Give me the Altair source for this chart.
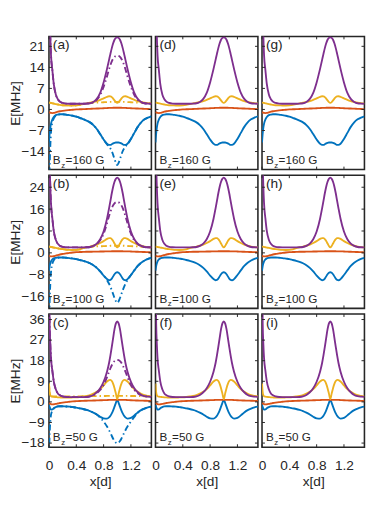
import altair as alt
import pandas as pd

FONT = "Liberation Sans"
INK = "#262626"

# sample positions along x (in units of d)
X = [0, 0.01, 0.02, 0.03, 0.05, 0.07, 0.1, 0.13, 0.16, 0.2,
     0.25, 0.3, 0.35, 0.4, 0.45, 0.5, 0.55, 0.6, 0.65, 0.7, 0.75, 0.8, 0.85,
     0.88, 0.9, 0.92, 0.94, 0.96, 0.98, 1.0,
     1.02, 1.04, 1.06, 1.08, 1.1, 1.12,
     1.15, 1.2, 1.25, 1.3, 1.35, 1.4, 1.45, 1.5]

# ---- Bz = 160 G ----
PS1 = [60, 34, 24, 18, 13, 8.5, 5.0, 3.4, 2.6, 2.15,
       1.95, 1.9, 1.9, 1.9, 1.9, 1.9, 1.95, 2.05, 2.5, 3.5, 5.5, 9.0, 13.5,
       16.5, 18.5, 20.4, 22.0, 23.2, 23.8, 24.0,
       23.8, 23.2, 22.0, 20.4, 18.5, 16.5,
       13.5, 9.0, 5.5, 3.5, 2.5, 2.05, 1.95, 1.9]
PD1 = [60, 34, 24, 18, 13, 8.5, 5.0, 3.4, 2.6, 2.15,
       1.95, 1.9, 1.9, 1.9, 1.9, 1.9, 1.95, 2.05, 2.4, 3.2, 4.8, 7.5, 11.0,
       13.4, 14.8, 16.0, 16.9, 17.5, 17.8, 17.9,
       17.8, 17.5, 16.9, 16.0, 14.8, 13.4,
       11.0, 7.5, 4.8, 3.2, 2.4, 2.05, 1.95, 1.9]
YS1 = [2.3, 2.25, 2.2, 2.15, 2.05, 1.95, 1.8, 1.65, 1.5, 1.4,
       1.35, 1.3, 1.3, 1.35, 1.5, 1.75, 2.0, 2.25, 2.5, 2.8, 3.2, 3.7, 4.2,
       4.4, 4.35, 4.1, 3.6, 3.0, 2.45, 2.2,
       2.45, 3.0, 3.6, 4.1, 4.35, 4.4,
       4.2, 3.7, 3.2, 2.8, 2.5, 2.25, 2.1, 2.0]
YD1 = [2.3, 2.25, 2.2, 2.15, 2.05, 1.95, 1.8, 1.65, 1.5, 1.4,
       1.35, 1.3, 1.3, 1.35, 1.5, 1.75, 2.0, 2.15, 2.25, 2.3, 2.35, 2.4, 2.45,
       2.5, 2.5, 2.5, 2.5, 2.5, 2.5, 2.5,
       2.5, 2.5, 2.5, 2.5, 2.5, 2.5,
       2.45, 2.4, 2.35, 2.3, 2.25, 2.15, 2.1, 2.0]
R1 = [-0.8, -1.0, -1.1, -1.15, -1.2, -1.15, -0.95, -0.75, -0.6, -0.45,
      -0.3, -0.2, -0.1, 0.0, 0.05, 0.1, 0.15, 0.2, 0.25, 0.3, 0.35, 0.4, 0.45,
      0.5, 0.5, 0.52, 0.55, 0.55, 0.55, 0.55,
      0.55, 0.55, 0.55, 0.52, 0.5, 0.5,
      0.45, 0.4, 0.35, 0.3, 0.25, 0.2, 0.15, 0.1]
BS1 = [-11.0, -8.0, -6.0, -4.7, -3.3, -2.5, -1.9, -1.7, -1.6, -1.6,
       -1.7, -1.9, -2.1, -2.4, -2.8, -3.2, -3.7, -4.3, -5.2, -6.5, -8.2, -10.0, -11.4,
       -11.8, -11.8, -11.6, -11.3, -11.1, -11.0, -11.0,
       -11.0, -11.1, -11.3, -11.6, -11.8, -11.8,
       -11.4, -9.8, -7.8, -5.8, -4.3, -3.3, -2.7, -2.3]
BD1 = [-30, -19, -12, -7.5, -4.3, -3.0, -2.1, -1.8, -1.6, -1.6,
       -1.7, -1.9, -2.1, -2.4, -2.8, -3.2, -3.7, -4.3, -5.2, -6.5, -8.2, -10.0, -11.6,
       -12.3, -13.0, -13.9, -15.1, -16.5, -17.8, -18.5,
       -17.8, -16.5, -15.1, -13.9, -13.0, -12.3,
       -11.6, -9.8, -7.8, -5.8, -4.3, -3.3, -2.7, -2.3]

# ---- Bz = 100 G ----
PS2 = [60, 34, 24, 18, 12.5, 8.0, 4.8, 3.3, 2.6, 2.2,
       2.05, 2.0, 2.0, 2.0, 2.0, 2.0, 2.05, 2.15, 2.55, 3.4, 5.0, 7.8, 12.5,
       16.3, 19.0, 21.8, 24.2, 26.0, 27.1, 27.5,
       27.1, 26.0, 24.2, 21.8, 19.0, 16.3,
       12.5, 7.8, 5.0, 3.4, 2.55, 2.15, 2.05, 2.0]
PD2 = [60, 34, 24, 18, 12.5, 8.0, 4.8, 3.3, 2.6, 2.2,
       2.05, 2.0, 2.0, 2.0, 2.0, 2.0, 2.05, 2.15, 2.45, 3.2, 4.6, 7.0, 10.8,
       13.5, 15.0, 16.4, 17.4, 18.1, 18.5, 18.6,
       18.5, 18.1, 17.4, 16.4, 15.0, 13.5,
       10.8, 7.0, 4.6, 3.2, 2.45, 2.15, 2.05, 2.0]
YS2 = [2.3, 2.25, 2.2, 2.15, 2.05, 1.95, 1.8, 1.65, 1.5, 1.35,
       1.2, 1.1, 1.05, 1.1, 1.3, 1.7, 2.05, 2.3, 2.6, 3.0, 3.6, 4.3, 5.1,
       5.4, 5.4, 5.0, 4.3, 3.4, 2.5, 2.0,
       2.5, 3.4, 4.3, 5.0, 5.4, 5.4,
       5.1, 4.3, 3.6, 3.0, 2.6, 2.3, 2.1, 2.0]
YD2 = [2.3, 2.25, 2.2, 2.15, 2.05, 1.95, 1.8, 1.65, 1.5, 1.35,
       1.2, 1.1, 1.05, 1.1, 1.3, 1.7, 2.05, 2.15, 2.25, 2.35, 2.4, 2.45, 2.5,
       2.55, 2.6, 2.6, 2.6, 2.6, 2.6, 2.6,
       2.6, 2.6, 2.6, 2.6, 2.6, 2.55,
       2.5, 2.45, 2.4, 2.35, 2.25, 2.15, 2.1, 2.0]
R2 = [-1.0, -1.15, -1.25, -1.3, -1.3, -1.2, -1.0, -0.8, -0.6, -0.4,
      -0.2, 0.0, 0.15, 0.25, 0.3, 0.35, 0.4, 0.4, 0.45, 0.45, 0.5, 0.5, 0.55,
      0.55, 0.55, 0.6, 0.6, 0.6, 0.6, 0.6,
      0.6, 0.6, 0.6, 0.6, 0.55, 0.55,
      0.55, 0.5, 0.45, 0.4, 0.35, 0.3, 0.25, 0.2]
BS2 = [-6.5, -4.8, -3.8, -3.1, -2.4, -2.0, -1.8, -1.7, -1.7, -1.7,
       -1.8, -1.9, -2.1, -2.3, -2.6, -2.9, -3.3, -3.8, -4.5, -5.5, -6.8, -8.3, -9.6,
       -10.0, -9.9, -9.4, -8.6, -7.8, -7.3, -7.1,
       -7.3, -7.8, -8.6, -9.4, -9.9, -10.0,
       -9.6, -8.1, -6.4, -4.8, -3.6, -2.8, -2.2, -1.8]
BD2 = [-28, -18, -11, -7.0, -3.9, -2.7, -2.0, -1.8, -1.7, -1.7,
       -1.8, -1.9, -2.1, -2.3, -2.6, -2.9, -3.3, -3.8, -4.5, -5.5, -6.8, -8.3, -10.0,
       -11.3, -12.4, -13.7, -15.1, -16.5, -17.7, -18.3,
       -17.7, -16.5, -15.1, -13.7, -12.4, -11.3,
       -10.0, -8.1, -6.4, -4.8, -3.6, -2.8, -2.2, -1.8]

# ---- Bz = 50 G ----
PS3 = [60, 34, 25, 19, 13.5, 9.0, 5.5, 3.7, 2.9, 2.4,
       2.15, 2.1, 2.1, 2.1, 2.1, 2.1, 2.15, 2.4, 3.0, 4.2, 6.0, 8.8, 13.2,
       17.0, 20.3, 24.0, 28.0, 31.8, 34.3, 35.2,
       34.3, 31.8, 28.0, 24.0, 20.3, 17.0,
       13.2, 8.8, 6.0, 4.2, 3.0, 2.5, 2.3, 2.2]
PD3 = [60, 34, 25, 19, 13.5, 9.0, 5.5, 3.7, 2.9, 2.4,
       2.15, 2.1, 2.1, 2.1, 2.1, 2.1, 2.15, 2.4, 2.9, 3.8, 5.2, 7.4, 10.8,
       13.2, 14.7, 16.0, 17.1, 17.8, 18.2, 18.3,
       18.2, 17.8, 17.1, 16.0, 14.7, 13.2,
       10.8, 7.4, 5.2, 3.8, 2.9, 2.5, 2.3, 2.2]
YS3 = [8.0, 4.2, 2.9, 2.5, 2.3, 2.2, 2.1, 2.0, 1.95, 1.9,
       1.9, 1.9, 1.95, 2.0, 2.15, 2.35, 2.6, 3.0, 3.6, 4.4, 5.6, 7.2, 8.9,
       9.5, 9.6, 9.1, 7.9, 6.0, 3.6, 1.2,
       3.6, 6.0, 7.9, 9.1, 9.6, 9.5,
       8.9, 7.2, 5.6, 4.4, 3.5, 2.9, 2.6, 2.4]
YD3 = [8.0, 4.2, 2.9, 2.5, 2.4, 2.4, 2.4, 2.4, 2.4, 2.4,
       2.4, 2.4, 2.4, 2.4, 2.4, 2.45, 2.45, 2.5, 2.5, 2.5, 2.55, 2.55, 2.6,
       2.6, 2.6, 2.6, 2.6, 2.6, 2.6, 2.6,
       2.6, 2.6, 2.6, 2.6, 2.6, 2.6,
       2.6, 2.55, 2.55, 2.5, 2.5, 2.45, 2.45, 2.4]
R3 = [-0.3, -0.6, -0.85, -1.0, -1.1, -1.05, -0.9, -0.7, -0.5, -0.3,
      -0.1, 0.05, 0.2, 0.3, 0.4, 0.45, 0.5, 0.55, 0.6, 0.65, 0.7, 0.75, 0.8,
      0.85, 0.85, 0.9, 0.9, 0.9, 0.9, 0.9,
      0.9, 0.9, 0.9, 0.9, 0.85, 0.85,
      0.8, 0.7, 0.65, 0.6, 0.55, 0.5, 0.45, 0.4]
BS3 = [-1.3, -2.3, -3.0, -3.4, -3.3, -2.8, -2.3, -2.0, -1.9, -1.9,
       -2.0, -2.1, -2.3, -2.5, -2.8, -3.1, -3.5, -4.0, -4.7, -5.5, -6.5, -7.2, -7.3,
       -6.8, -6.1, -5.0, -3.7, -2.1, -0.4, 0.8,
       -0.4, -2.1, -3.7, -5.0, -6.1, -6.8,
       -7.3, -7.0, -5.9, -4.6, -3.6, -2.9, -2.4, -2.1]
BD3 = [-24, -14, -8.5, -5.6, -3.8, -2.9, -2.3, -2.0, -1.9, -1.9,
       -2.0, -2.1, -2.3, -2.5, -2.8, -3.1, -3.5, -4.0, -4.7, -5.5, -6.9, -8.6, -10.8,
       -12.4, -13.6, -14.9, -16.1, -17.1, -17.8, -18.1,
       -17.8, -17.1, -16.1, -14.9, -13.6, -12.4,
       -10.8, -8.6, -6.6, -4.8, -3.6, -2.9, -2.4, -2.1]

ROWS = [
    {"blue": (BS1, BD1), "red": (R1, None), "yellow": (YS1, YD1), "purple": (PS1, PD1)},
    {"blue": (BS2, BD2), "red": (R2, None), "yellow": (YS2, YD2), "purple": (PS2, PD2)},
    {"blue": (BS3, BD3), "red": (R3, None), "yellow": (YS3, YD3), "purple": (PS3, PD3)},
]
CURVES = ["blue", "red", "yellow", "purple"]
COLORS = {"blue": "#0072BD", "red": "#D95319", "yellow": "#EDB120", "purple": "#7E2F8E"}

YDOM = [[-20.0, 24.3], [-20.3, 28.4], [-19.8, 38.4]]
YTICKS = [[-14, -7, 0, 7, 14, 21], [-16, -8, 0, 8, 16, 24], [-18, -9, 0, 9, 18, 27, 36]]
XTICKS = [0, 0.4, 0.8, 1.2]
LETTERS = [["(a)", "(d)", "(g)"], ["(b)", "(e)", "(h)"], ["(c)", "(f)", "(i)"]]
BZ = ["=160 G", "=100 G", "=50 G"]

W, H = 105, 136.5
TL = 3  # tick length (px)


def xenc(r):
    axis = None
    if r == 2:
        axis = alt.Axis(values=XTICKS, format=".1~f", title="x[d]", ticks=False,
                        domain=False, grid=False, labelFlush=False,
                        labelPadding=12, titlePadding=2)
    return alt.X("x:Q", scale=alt.Scale(domain=[0, 1.5], nice=False, zero=False), axis=axis)


def yenc(r, c):
    axis = None
    if c == 0:
        axis = alt.Axis(values=YTICKS[r], title="E[MHz]", ticks=False, domain=False,
                        grid=False, labelPadding=5, titlePadding=-2)
    return alt.Y("y:Q", scale=alt.Scale(domain=YDOM[r], nice=False, zero=False), axis=axis)


def panel(r, c):
    layers = []
    data = ROWS[r]
    for name in CURVES:
        solid, dash = data[name]
        if c == 0 and dash is not None:
            df = pd.DataFrame({"x": X, "y": dash})
            layers.append(alt.Chart(df).mark_line(
                color=COLORS[name], strokeWidth=1.9, strokeDash=[6, 3, 1.5, 3],
                clip=True, interpolate="monotone").encode(x=xenc(r), y=yenc(r, c)))
        df = pd.DataFrame({"x": X, "y": solid})
        layers.append(alt.Chart(df).mark_line(
            color=COLORS[name], strokeWidth=1.9, clip=True,
            interpolate="monotone").encode(x=xenc(r), y=yenc(r, c)))

    yt = pd.DataFrame({"y": YTICKS[r]})
    xt = pd.DataFrame({"x": XTICKS})
    layers.append(alt.Chart(yt).mark_rule(color=INK, strokeWidth=1).encode(
        y=yenc(r, c), x=alt.value(0), x2=alt.value(TL)))
    layers.append(alt.Chart(yt).mark_rule(color=INK, strokeWidth=1).encode(
        y=yenc(r, c), x=alt.value(W - TL), x2=alt.value(W)))
    layers.append(alt.Chart(xt).mark_rule(color=INK, strokeWidth=1).encode(
        x=xenc(r), y=alt.value(0), y2=alt.value(TL)))
    layers.append(alt.Chart(xt).mark_rule(color=INK, strokeWidth=1).encode(
        x=xenc(r), y=alt.value(H - TL), y2=alt.value(H)))

    lab = pd.DataFrame({"t": [LETTERS[r][c]]})
    layers.append(alt.Chart(lab).mark_text(
        align="left", baseline="top", font=FONT, fontSize=14, color=INK).encode(
        text="t:N", x=alt.value(4), y=alt.value(2)))
    b = pd.DataFrame({"t": ["B"]})
    z = pd.DataFrame({"t": ["z"]})
    v = pd.DataFrame({"t": [BZ[r]]})
    layers.append(alt.Chart(b).mark_text(
        align="left", baseline="alphabetic", font=FONT, fontSize=12, color=INK).encode(
        text="t:N", x=alt.value(4), y=alt.value(H - 6)))
    layers.append(alt.Chart(z).mark_text(
        align="left", baseline="alphabetic", font=FONT, fontSize=8, color=INK).encode(
        text="t:N", x=alt.value(12.5), y=alt.value(H - 2)))
    layers.append(alt.Chart(v).mark_text(
        align="left", baseline="alphabetic", font=FONT, fontSize=12, color=INK).encode(
        text="t:N", x=alt.value(17), y=alt.value(H - 6)))

    return alt.layer(*layers).properties(width=W, height=H)


panels = [panel(r, c) for r in range(3) for c in range(3)]
chart = alt.concat(
    *panels, columns=3, spacing={"row": 5.3, "column": 4.2}, bounds="flush"
).properties(
    padding={"left": 0, "top": 21, "right": 0, "bottom": 0}
).configure_view(
    stroke=INK, strokeWidth=1.6
).configure_axis(
    labelFont=FONT, titleFont=FONT, labelFontSize=14, titleFontSize=14,
    titleFontWeight="normal", labelColor=INK, titleColor=INK
)

chart.save("out.html", embed_options={"renderer": "svg", "actions": False})
